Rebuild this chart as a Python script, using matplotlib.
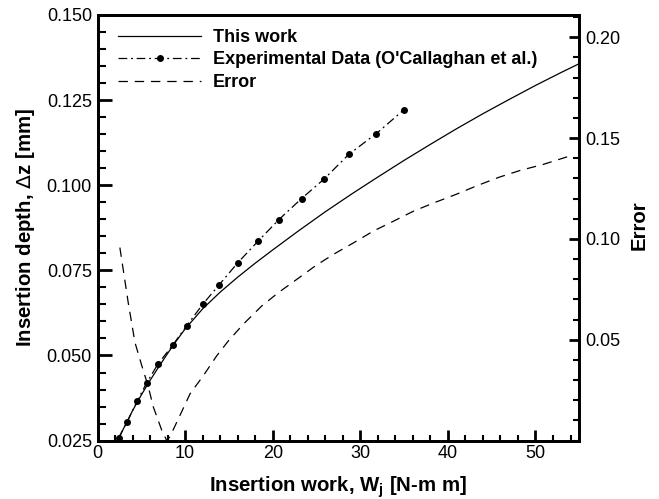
import matplotlib
matplotlib.use("Agg")
import matplotlib.pyplot as plt
from matplotlib.ticker import MultipleLocator, FixedLocator

plt.rcParams['font.family'] = ['Liberation Sans', 'DejaVu Sans']

# Model prediction: insertion depth vs insertion work
work_model = [2.3, 3, 4, 5, 6, 7, 8, 9, 10, 12, 14, 16, 18, 20, 23, 26, 29,
              32, 35, 38, 41, 44, 47, 50, 53, 55]
depth_model = [0.025, 0.0287, 0.0338, 0.0384, 0.0427, 0.0467, 0.0506, 0.0543,
               0.0578, 0.0637, 0.0686, 0.0730, 0.0771, 0.0810, 0.0867, 0.0922,
               0.0974, 0.1024, 0.1073, 0.1120, 0.1166, 0.1210, 0.1252, 0.1293,
               0.1332, 0.1357]

# Experimental measurements (O'Callaghan et al.)
work_exp = [2.4, 3.4, 4.5, 5.6, 6.9, 8.6, 10.2, 12.0, 13.9, 16.0, 18.3, 20.7,
            23.3, 25.9, 28.7, 31.8, 35.0]
depth_exp = [0.0258, 0.0306, 0.0365, 0.0419, 0.0475, 0.0531, 0.0588, 0.0650,
             0.0708, 0.0772, 0.0835, 0.0899, 0.0961, 0.1019, 0.1091, 0.1151,
             0.1222]

# Relative error between model and experiment
work_err = [2.55, 2.93, 3.5, 4.27, 5.03, 5.8, 6.36, 7.32, 7.9, 8.27, 9.4, 10.56,
            12.08, 13.6, 14.95, 16.66, 18.76, 20.66, 22.77, 24.86, 26.96, 29.25,
            31.5, 33.8, 36.1, 38.6, 40.9, 43.4, 45.8, 48.3, 50.8, 53.85]
error = [0.0957, 0.0849, 0.0685, 0.0487, 0.0375, 0.0267, 0.0168, 0.0053, 0.0,
         0.002, 0.0124, 0.0232, 0.0322, 0.042, 0.0495, 0.0578, 0.0668, 0.0734,
         0.080, 0.0866, 0.0924, 0.0981, 0.1039, 0.1088, 0.1138, 0.1182, 0.122,
         0.1265, 0.1305, 0.134, 0.1368, 0.141]

depth_ticks = [0.025, 0.050, 0.075, 0.100, 0.125, 0.150]
error_ticks = [0.05, 0.10, 0.15, 0.20]
work_ticks = [0, 10, 20, 30, 40, 50]

fig = plt.figure(figsize=(6.59, 4.99), dpi=100)
ax = fig.add_axes([0.148, 0.117, 0.731, 0.853])
ax2 = ax.twinx()

l1, = ax.plot(work_model, depth_model, color='black', lw=0.9, label='This work')
l2, = ax.plot(work_exp, depth_exp, color='black', lw=0.9,
              linestyle=(0, (7, 3, 1.5, 3)), marker='o', markersize=4,
              label="Experimental Data (O'Callaghan et al.)")
l3, = ax2.plot(work_err, error, color='black', lw=0.9,
               linestyle=(0, (7.5, 5.5)), label='Error')

ax.set_xlim(0, 55)
ax.set_ylim(0.025, 0.150)
ax2.set_ylim(0, 0.211)

ax.xaxis.set_major_locator(FixedLocator(work_ticks))
ax.xaxis.set_minor_locator(MultipleLocator(2))
ax.yaxis.set_major_locator(FixedLocator(depth_ticks))
ax.yaxis.set_minor_locator(MultipleLocator(0.005))
ax.set_yticklabels([f"{v:.3f}" for v in depth_ticks])
ax2.yaxis.set_major_locator(FixedLocator(error_ticks))
ax2.yaxis.set_minor_locator(MultipleLocator(0.01))
ax2.set_yticklabels([f"{v:.2f}" for v in error_ticks])

for a in (ax, ax2):
    for s in a.spines.values():
        s.set_linewidth(2.0)

ax.tick_params(axis='both', which='both', direction='in', labelsize=13,
               top=False, right=False)
ax.tick_params(axis='y', which='major', length=10, width=2.0, pad=4)
ax.tick_params(axis='y', which='minor', length=6, width=1.5)
ax.tick_params(axis='x', which='major', length=8, width=2.0, pad=3)
ax.tick_params(axis='x', which='minor', length=4.5, width=1.5)
ax2.tick_params(axis='y', which='both', direction='in', labelsize=13)
ax2.tick_params(axis='y', which='major', length=7, width=2.0, pad=4)
ax2.tick_params(axis='y', which='minor', length=4.5, width=1.5)

ax.set_xlabel(r"Insertion work, W$_\mathregular{j}$ [N-m m]", fontsize=14.7,
              fontweight='bold', labelpad=9)
ax.set_ylabel(r"Insertion depth, $\Delta$z [mm]", fontsize=14.7,
              fontweight='bold', labelpad=7)
fig.text(639 / 659, 1 - 225 / 499, "Error", rotation=90, fontsize=14.7,
         fontweight='bold', ha='center', va='center')

ax.legend(handles=[l1, l2, l3], loc='upper left', bbox_to_anchor=(0.028, 0.984),
          frameon=False, prop={'weight': 'bold', 'size': 13}, handlelength=4.6,
          handletextpad=0.64, labelspacing=0.3, borderaxespad=0.0)

fig.savefig("out.png", dpi=100)
